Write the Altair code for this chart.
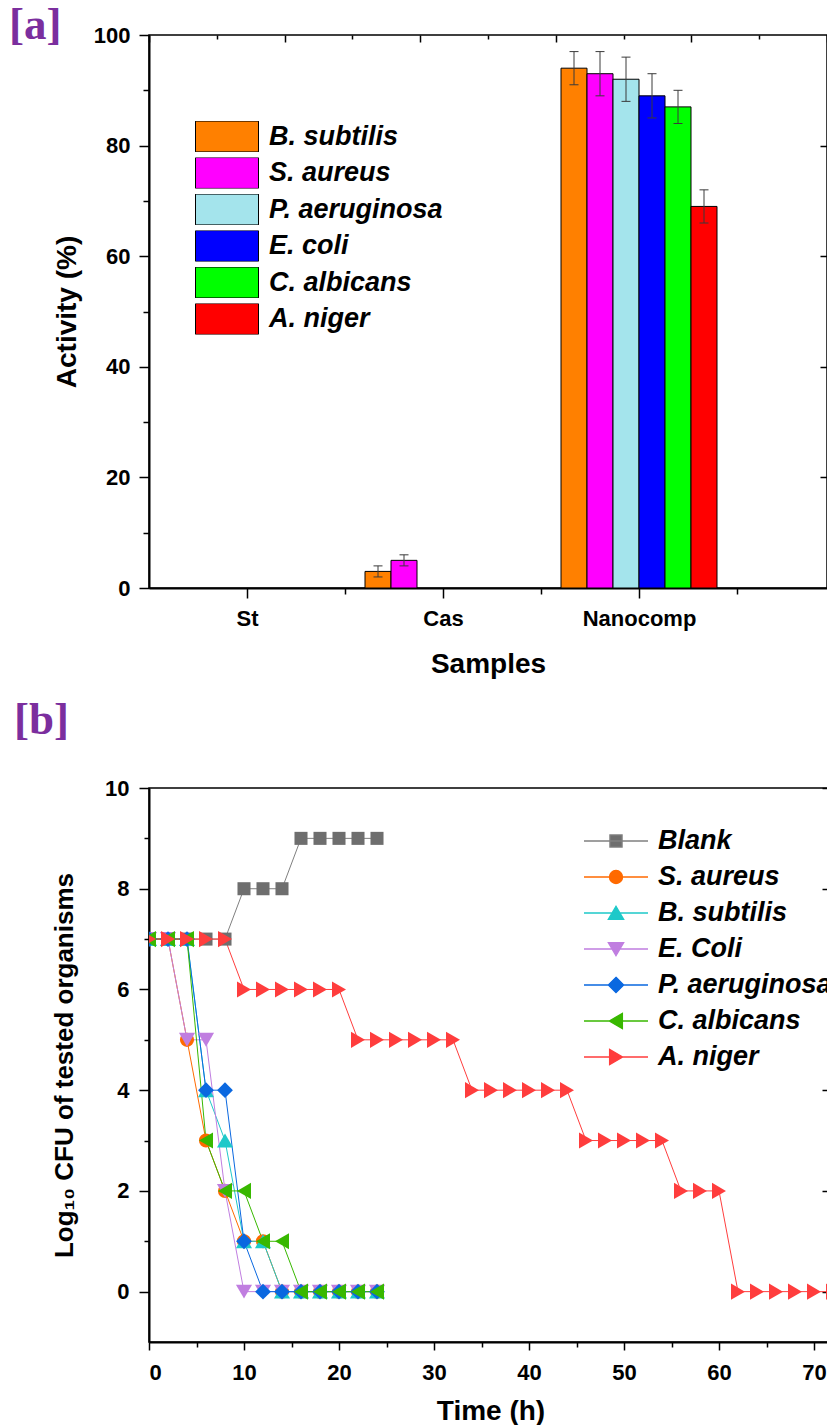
import altair as alt
import pandas as pd

# ---------------- Panel [a] data ----------------
samples = ["St", "Cas", "Nanocomp"]
organisms_a = ["B. subtilis", "S. aureus", "P. aeruginosa", "E. coli", "C. albicans", "A. niger"]
colors_a = ["#ff8000", "#ff00ff", "#a4e4ec", "#0000ff", "#00ff00", "#ff0000"]
act_st = [0, 0, 0, 0, 0, 0]
act_cas = [3, 5, 0, 0, 0, 0]
act_nano = [94, 93, 92, 89, 87, 69]
err_st = [0, 0, 0, 0, 0, 0]
err_cas = [1, 1, 0, 0, 0, 0]
err_nano = [3, 4, 4, 4, 3, 3]

# ---------------- Panel [b] data ----------------
series_b = ["Blank", "S. aureus", "B. subtilis", "E. Coli", "P. aeruginosa", "C. albicans", "A. niger"]
colors_b = ["#6e6e6e", "#ff6a00", "#1ec9c9", "#c07ee0", "#0a68e0", "#38b800", "#ff3d3d"]
line_colors_b = ["#808080", "#ff6a00", "#1ec9c9", "#c07ee0", "#0a68e0", "#38b800", "#ff3d3d"]
shapes_b = ["square", "circle", "triangle-up", "triangle-down", "diamond", "triangle-left", "triangle-right"]
sizes_b = [170, 200, 260, 260, 250, 260, 260]
# legend glyphs: a horizontal line with the marker drawn on it
legend_glyphs = [
    "M-1,0H1M-0.19,-0.19H0.19V0.19H-0.19Z",
    "M-1,0H1M0.205,0A0.205,0.205,0,1,1,-0.205,0A0.205,0.205,0,1,1,0.205,0Z",
    "M-1,0H1M0,-0.21L0.24,0.2L-0.24,0.2Z",
    "M-1,0H1M0,0.21L0.24,-0.2L-0.24,-0.2Z",
    "M-1,0H1M0,-0.24L0.24,0L0,0.24L-0.24,0Z",
    "M-1,0H1M-0.21,0L0.2,-0.24L0.2,0.24Z",
    "M-1,0H1M0.21,0L-0.2,-0.24L-0.2,0.24Z",
]
time_short = [0, 2, 4, 6, 8, 10, 12, 14, 16, 18, 20, 22, 24]
blank = [7, 7, 7, 7, 7, 8, 8, 8, 9, 9, 9, 9, 9]
s_aureus = [7, 7, 5, 3, 2, 1, 1, 0, 0, 0, 0, 0, 0]
b_subtilis = [7, 7, 7, 4, 3, 1, 1, 0, 0, 0, 0, 0, 0]
e_coli = [7, 7, 5, 5, 2, 0, 0, 0, 0, 0, 0, 0, 0]
p_aeruginosa = [7, 7, 7, 4, 4, 1, 0, 0, 0, 0, 0, 0, 0]
c_albicans = [7, 7, 7, 3, 2, 2, 1, 1, 0, 0, 0, 0, 0]
time_long = [0, 2, 4, 6, 8, 10, 12, 14, 16, 18, 20, 22, 24, 26, 28, 30, 32, 34, 36,
             38, 40, 42, 44, 46, 48, 50, 52, 54, 56, 58, 60, 62, 64, 66, 68, 70, 72]
a_niger = [7, 7, 7, 7, 7, 6, 6, 6, 6, 6, 6, 5, 5, 5, 5, 5, 5, 4, 4, 4, 4, 4, 4,
           3, 3, 3, 3, 3, 2, 2, 2, 0, 0, 0, 0, 0, 0]

y_ticks_a = [0, 10, 20, 30, 40, 50, 60, 70, 80, 90, 100]
x_ticks_a = [1, 1.5, 2, 2.5, 3, 3.5]
x_ticks_b = [0, 5, 10, 15, 20, 25, 30, 35, 40, 45, 50, 55, 60, 65, 70]
y_ticks_b = [0, 1, 2, 3, 4, 5, 6, 7, 8, 9, 10]

FONT = "Liberation Sans"

# ---------------- build tables ----------------
act = [act_st, act_cas, act_nano]
err = [err_st, err_cas, err_nano]
rows_a = []
for si, s in enumerate(samples):
    for oi, o in enumerate(organisms_a):
        rows_a.append(dict(Sample=s, sidx=si + 1, Organism=o, oidx=oi,
                           Activity=act[si][oi], Err=err[si][oi]))
df_a = pd.DataFrame(rows_a)

series_vals = [blank, s_aureus, b_subtilis, e_coli, p_aeruginosa, c_albicans]
rows_b = []
for k, (name, vals) in enumerate(zip(series_b[:-1], series_vals)):
    for t, v in zip(time_short, vals):
        rows_b.append(dict(Series=name, Time=t, Log=v))
for t, v in zip(time_long, a_niger):
    rows_b.append(dict(Series="A. niger", Time=t, Log=v))
df_b = pd.DataFrame(rows_b)

# ---------------- Panel [a] ----------------
W_A, H_A = 678, 553
STEP = 196.0
BW = 26.0 / STEP
XDOM_A = [0.5, 0.5 + W_A / STEP]


def xsc_a():
    return alt.Scale(domain=XDOM_A, nice=False, zero=False)


ysc_a = alt.Scale(domain=[0, 100], nice=False)

lab_expr = " : ".join(
    [f"datum.value === {i + 1} ? '{s}'" for i, s in enumerate(samples)]) + " : ''"

base_a = alt.Chart(df_a).transform_calculate(
    x0=f"datum.sidx + (datum.oidx - 3) * {BW}",
    x1=f"datum.sidx + (datum.oidx - 2) * {BW}",
    xc=f"datum.sidx + (datum.oidx - 2.5) * {BW}",
    lo="datum.Activity - datum.Err",
    hi="datum.Activity + datum.Err",
    zero="0",
)

bars = base_a.transform_filter("datum.Activity > 0").mark_rect(
    stroke="black", strokeWidth=1
).encode(
    x=alt.X("x0:Q", scale=xsc_a(), axis=alt.Axis(
        values=x_ticks_a, labelExpr=lab_expr, title="Samples",
        tickSize={"condition": {"test": "datum.value % 1 === 0", "value": 10}, "value": 6},
        labelPadding=10, titlePadding=21)),
    x2="x1:Q",
    y=alt.Y("Activity:Q", scale=ysc_a, axis=alt.Axis(
        values=y_ticks_a, labelExpr="datum.value % 20 === 0 ? datum.label : ''",
        title="Activity (%)",
        tickSize={"condition": {"test": "datum.value % 20 === 0", "value": 10}, "value": 6},
        labelPadding=9, titlePadding=12)),
    y2="zero:Q",
    color=alt.Color("Organism:N", scale=alt.Scale(domain=organisms_a, range=colors_a),
                    legend=alt.Legend(
                        orient="none", legendX=46, legendY=86, title=None,
                        symbolType="M-1,-0.49H1V0.49H-1Z", symbolSize=63 * 63,
                        symbolStrokeColor="black", symbolStrokeWidth=1,
                        symbolOpacity=1,
                        clipHeight=31, rowPadding=5.5, padding=0,
                        labelFont=FONT, labelFontSize=27, labelFontStyle="italic",
                        labelFontWeight="bold", labelColor="black", labelOffset=10,
                        labelLimit=400)),
)

err_base = base_a.transform_filter("datum.Err > 0")
errbar = err_base.mark_rule(color="#3a3a3a", strokeWidth=1).encode(
    x=alt.X("xc:Q", scale=xsc_a(), axis=None),
    y=alt.Y("lo:Q", scale=ysc_a, axis=None),
    y2="hi:Q",
)
cap_lo = err_base.mark_tick(
    orient="horizontal", size=9, thickness=1, color="#3a3a3a", opacity=1
).encode(
    x=alt.X("xc:Q", scale=xsc_a(), axis=None),
    y=alt.Y("lo:Q", scale=ysc_a, axis=None),
)
cap_hi = err_base.mark_tick(
    orient="horizontal", size=9, thickness=1, color="#3a3a3a", opacity=1
).encode(
    x=alt.X("xc:Q", scale=xsc_a(), axis=None),
    y=alt.Y("hi:Q", scale=ysc_a, axis=None),
)

top_vals = pd.DataFrame({"v": [0, 10], "w": [0, 100]})
top_major_a = alt.Chart(top_vals).mark_point(opacity=0).encode(
    x=alt.X("v:Q", scale=alt.Scale(domain=[0, 10], nice=False), axis=alt.Axis(
        orient="top", values=[0, 2, 4, 6, 8, 10], labels=False, domain=False,
        tickSize=7, offset=-7, title=None, grid=False, minExtent=0)),
    y=alt.Y("w:Q", scale=ysc_a, axis=None))
top_minor_a = alt.Chart(top_vals).mark_point(opacity=0).encode(
    x=alt.X("v:Q", scale=alt.Scale(domain=[0, 10], nice=False), axis=alt.Axis(
        orient="top", values=[1, 3, 5, 7, 9], labels=False, domain=False,
        tickSize=4, offset=-4, title=None, grid=False, minExtent=0)),
    y=alt.Y("w:Q", scale=ysc_a, axis=None))
right_a = alt.Chart(top_vals).mark_point(opacity=0).encode(
    x=alt.X("v:Q", scale=alt.Scale(domain=[0, 10], nice=False), axis=None),
    y=alt.Y("w:Q", scale=ysc_a, axis=alt.Axis(
        orient="right", values=[20, 40, 60, 80], labels=False, domain=False,
        tickSize=7, offset=-7, title=None, grid=False, minExtent=0)))

chart_a = alt.layer(bars, errbar, cap_lo, cap_hi, top_major_a, top_minor_a, right_a).resolve_scale(
    x="independent"
).resolve_axis(x="independent", y="independent").properties(
    width=W_A, height=H_A,
    title=alt.TitleParams(
        text="[a]", anchor="start", frame="group", orient="top", dx=-140, dy=0,
        offset=-60, font="Liberation Serif", fontSize=45, fontWeight="bold",
        color="#7b2e9e", baseline="alphabetic"),
)

# ---------------- Panel [b] ----------------
W_B, H_B = 683, 554
xsc_b = alt.Scale(domain=[0, W_B / 9.5], nice=False, zero=False)
ysc_b = alt.Scale(domain=[-1, 10], nice=False, zero=False)

x_axis_b = alt.Axis(
    values=x_ticks_b, labelExpr="datum.value % 10 === 0 ? datum.label : ''",
    title="Time (h)",
    tickSize={"condition": {"test": "datum.value % 10 === 0", "value": 8}, "value": 5},
    labelPadding=12, titlePadding=14)
y_axis_b = alt.Axis(
    values=y_ticks_b, labelExpr="datum.value % 2 === 0 ? datum.label : ''",
    title="Log₁₀ CFU of tested organisms",
    tickSize={"condition": {"test": "datum.value % 2 === 0", "value": 10}, "value": 5},
    labelPadding=10, titlePadding=27, titleFontSize=26)

line_layers = [
    alt.Chart(df_b).transform_filter(alt.datum.Series == name).mark_line(
        strokeWidth=1, clip=True, color=col
    ).encode(
        x=alt.X("Time:Q", scale=xsc_b, axis=x_axis_b if i == 0 else alt.Axis(title="Time (h)")),
        y=alt.Y("Log:Q", scale=ysc_b, axis=y_axis_b if i == 0 else None),
    )
    for i, (name, col) in enumerate(zip(series_b, line_colors_b))
]

point_layers = [
    alt.Chart(df_b).transform_filter(alt.datum.Series == name).mark_point(
        filled=True, opacity=1, strokeWidth=0, clip=True,
        shape=shp, size=sz, color=col
    ).encode(
        x=alt.X("Time:Q", scale=xsc_b, title="Time (h)"),
        y=alt.Y("Log:Q", scale=ysc_b, axis=None),
    )
    for name, shp, sz, col in zip(series_b, shapes_b, sizes_b, colors_b)
]

leg_props = dict(orient="none", legendX=434, legendY=35, title=None,
                 symbolSize=64 * 64, symbolStrokeWidth=1.3, symbolOpacity=1,
                 clipHeight=36, rowPadding=0, padding=0,
                 labelFont=FONT, labelFontSize=27, labelFontStyle="italic",
                 labelFontWeight="bold", labelColor="black", labelOffset=9,
                 labelLimit=400)

legend_layer = alt.Chart(df_b).transform_filter("false").mark_point(
    filled=True, strokeWidth=1.3
).encode(
    x=alt.X("Time:Q", scale=xsc_b, title="Time (h)"),
    y=alt.Y("Log:Q", scale=ysc_b, axis=None),
    shape=alt.Shape("Series:N", scale=alt.Scale(domain=series_b, range=legend_glyphs),
                    legend=alt.Legend(**leg_props)),
    fill=alt.Fill("Series:N", scale=alt.Scale(domain=series_b, range=colors_b),
                  legend=alt.Legend(**leg_props)),
    stroke=alt.Stroke("Series:N", scale=alt.Scale(domain=series_b, range=line_colors_b),
                      legend=alt.Legend(**leg_props)),
)

right_vals_b = pd.DataFrame({"v": [-1, 10], "t": [0, 70]})
right_major_b = alt.Chart(right_vals_b).mark_point(opacity=0).encode(
    x=alt.X("t:Q", scale=xsc_b, title="Time (h)"),
    y=alt.Y("v:Q", scale=ysc_b, axis=alt.Axis(
        orient="right", values=[0, 2, 4, 6, 8, 10], labels=False, domain=False,
        tickSize=10, offset=-10, title=None, grid=False, minExtent=0)))
right_minor_b = alt.Chart(right_vals_b).mark_point(opacity=0).encode(
    x=alt.X("t:Q", scale=xsc_b, title="Time (h)"),
    y=alt.Y("v:Q", scale=ysc_b, axis=alt.Axis(
        orient="right", values=[-1, 1, 3, 5, 7, 9], labels=False, domain=False,
        tickSize=5, offset=-5, title=None, grid=False, minExtent=0)))

chart_b = alt.layer(*line_layers, *point_layers, legend_layer, right_major_b,
                    right_minor_b).resolve_axis(
    y="independent"
).properties(
    width=W_B, height=H_B,
    title=alt.TitleParams(
        text="[b]", anchor="start", frame="group", orient="top", dx=-135, dy=0,
        offset=-2, font="Liberation Serif", fontSize=45, fontWeight="bold",
        color="#7b2e9e", baseline="alphabetic"),
)

chart = alt.concat(chart_a, chart_b, columns=1, spacing=18, align="none").resolve_scale(
    color="independent", fill="independent", shape="independent", stroke="independent"
).resolve_legend(
    color="independent", fill="independent", shape="independent", stroke="independent"
).properties(
    padding={"left": 8, "top": 2, "right": -7, "bottom": 0}
).configure_view(
    stroke="black", strokeWidth=1.5
).configure_axis(
    labelFont=FONT, labelFontSize=22, labelFontWeight="bold", labelColor="black",
    titleFont=FONT, titleFontSize=28, titleFontWeight="bold", titleColor="black",
    tickColor="black", tickWidth=1.5, domainColor="black", domainWidth=2, grid=False,
    labelOverlap=False,
).configure_legend(
    symbolOpacity=1
)

chart.save("out.html", embed_options={"renderer": "svg", "actions": False})
